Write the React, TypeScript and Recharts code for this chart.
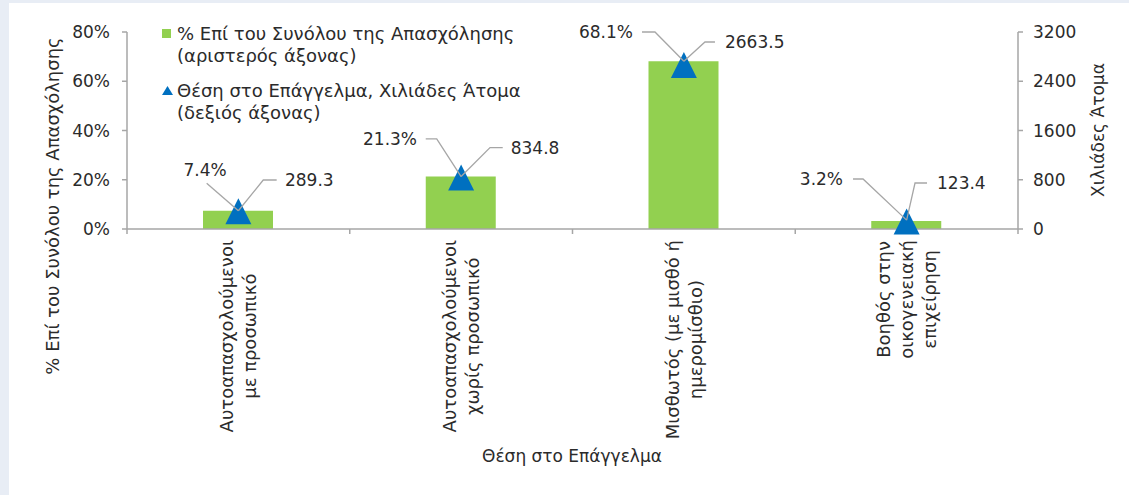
import React from 'react';
import { ComposedChart, Bar, Line, XAxis, YAxis, LabelList } from 'recharts';

// Θέση στο Επάγγελμα
const categories = ['Αυτοαπασχολούμενοι με προσωπικό', 'Αυτοαπασχολούμενοι χωρίς προσωπικό', 'Μισθωτός (με μισθό ή ημερομίσθιο)', 'Βοηθός στην οικογενειακή επιχείρηση'];
const categoryLines = [
    ['Αυτοαπασχολούμενοι', 'με προσωπικό'],
    ['Αυτοαπασχολούμενοι', 'χωρίς προσωπικό'],
    ['Μισθωτός (με μισθό ή', 'ημερομίσθιο)'],
    ['Βοηθός στην', 'οικογενειακή', 'επιχείρηση'],
];
// % Επί του Συνόλου της Απασχόλησης
const sharePct = [7.4, 21.3, 68.1, 3.2];
// Χιλιάδες Άτομα
const thousands = [289.3, 834.8, 2663.5, 123.4];
const leftTicks = [0, 20, 40, 60, 80];
const rightTicks = [0, 800, 1600, 2400, 3200];

const rows = categories.map((name, i) => ({ name, pct: sharePct[i], val: thousands[i] }));

// label placement (offsets from the top of each bar), moved by hand like in the original
const pctLayout = [
    { tx: -11.7, ty: -40.8, line: [[-31.7, -27.5], [0, 0]] },
    { tx: -44.1, ty: -37.7, line: [[-35.4, -37.7], [-24.4, -37.7], [0, 0]] },
    { tx: -50.9, ty: -29.3, line: [[-41.9, -29.3], [-28.9, -29.3], [0, 0]] },
    { tx: -63.6, ty: -42.1, line: [[-53.6, -42.1], [-43.6, -42.1], [0, -1]] },
];
const valLayout = [
    { tx: 46.6, ty: -30.8, line: [[38.3, -30.8], [24.9, -30.8], [0, 0]] },
    { tx: 49.6, ty: -29, line: [[41.6, -29], [28.9, -29], [0, 0]] },
    { tx: 41.1, ty: -19.3, line: [[31.1, -19.3], [21.1, -19.3], [0, 0]] },
    { tx: 30.4, ty: -38.1, line: [[20.4, -38.1], [8.4, -38.1], [0, -1]] },
];

const FONT = '"DejaVu Sans", sans-serif';
const FS = 17;
const CAT_FS = 18;
const TEXT = '#2b2b2b';
const GRID = '#a6a6a6';
const GREEN = '#92d050';
const BLUE = '#0070c0';

let ctx: CanvasRenderingContext2D | null = null;
const measure = (s: string) => {
    if (!ctx) ctx = document.createElement('canvas').getContext('2d');
    if (!ctx) return s.length * CAT_FS * 0.6;
    ctx.font = `${CAT_FS}px "DejaVu Sans"`;
    return ctx.measureText(s).width;
};

const CategoryTick = (props: any) => {
    const { x, y, payload, index } = props;
    const off = payload?.offset ?? 111.4;
    const lines = categoryLines[index] || [];
    const maxW = Math.max(...lines.map(measure));
    const n = lines.length;
    return (
        <g>
            <line x1={x - off} y1={y} x2={x - off} y2={y + 5} stroke={GRID} strokeWidth={1.5} />
            {index === categories.length - 1 && (
                <line x1={x + off} y1={y} x2={x + off} y2={y + 5} stroke={GRID} strokeWidth={1.5} />
            )}
            <g transform={`translate(${x},${y}) rotate(-90)`}>
                {lines.map((l, i) => (
                    <text key={i} x={-(11 + maxW / 2)} y={(i - (n - 1) / 2) * 23} textAnchor="middle"
                        dominantBaseline="central" fill={TEXT} fontSize={CAT_FS} fontFamily={FONT}>
                        {l}
                    </text>
                ))}
            </g>
        </g>
    );
};

const Leader = ({ ax, ay, pts }: { ax: number; ay: number; pts: number[][] }) => (
    <polyline points={pts.map(p => `${ax + p[0]},${ay + p[1]}`).join(' ')} fill="none" stroke={GRID} strokeWidth={1.3} />
);

const PctLabel = (p: any) => {
    const L = pctLayout[p.index];
    const ax = Number(p.x), ay = Number(p.y);
    return (
        <g>
            <Leader ax={ax} ay={ay} pts={L.line} />
            <text x={ax + L.tx} y={ay + L.ty} textAnchor="end" dominantBaseline="central" fill={TEXT} fontSize={FS} fontFamily={FONT}>
                {`${sharePct[p.index].toFixed(1)}%`}
            </text>
        </g>
    );
};

const ValLabel = (p: any) => {
    const L = valLayout[p.index];
    const ax = Number(p.x), ay = Number(p.y);
    return (
        <g>
            <Leader ax={ax} ay={ay} pts={L.line} />
            <text x={ax + L.tx} y={ay + L.ty} textAnchor="start" dominantBaseline="central" fill={TEXT} fontSize={FS} fontFamily={FONT}>
                {thousands[p.index].toFixed(1)}
            </text>
        </g>
    );
};

const Triangle = (p: any) => {
    const { cx, cy } = p;
    if (cx == null || cy == null) return null;
    return <polygon points={`${cx},${cy - 13} ${cx + 13},${cy + 13} ${cx - 13},${cy + 13}`} fill={BLUE} />;
};

const tickStyle = { fill: TEXT, fontSize: FS, fontFamily: FONT };

export default function App() {
    return (
        <div style={{ position: 'absolute', left: 0, top: 0, width: 1129, height: 495, background: '#e8edf5', overflow: 'hidden' }}>
            <div style={{ position: 'absolute', left: 9, top: 3, width: 1120, height: 492, background: '#fff' }} />
            <div style={{ position: 'absolute', left: 0, top: 0 }}>
                <ComposedChart width={1129} height={495} data={rows} margin={{ top: 32, right: 51, bottom: 66, left: 67 }}>
                    <XAxis dataKey="name" height={200} interval={0} tickLine={false} tickSize={0} tickMargin={0}
                        axisLine={{ stroke: GRID, strokeWidth: 1.5 }} tick={<CategoryTick />} />
                    <YAxis yAxisId="l" orientation="left" width={60} domain={[0, 80]} ticks={leftTicks}
                        tickFormatter={(v: number) => `${v}%`} tickSize={5} tickMargin={12}
                        axisLine={{ stroke: GRID, strokeWidth: 1.5 }} tickLine={{ stroke: GRID, strokeWidth: 1.5 }} tick={tickStyle} />
                    <YAxis yAxisId="r" orientation="right" width={60} domain={[0, 3200]} ticks={rightTicks}
                        tickSize={5} tickMargin={10}
                        axisLine={{ stroke: GRID, strokeWidth: 1.5 }} tickLine={{ stroke: GRID, strokeWidth: 1.5 }} tick={tickStyle} />
                    <Bar yAxisId="l" dataKey="pct" fill={GREEN} barSize={70} isAnimationActive={false} />
                    <Line yAxisId="r" dataKey="val" stroke="none" dot={<Triangle />} activeDot={false} isAnimationActive={false} />
                    <Line yAxisId="l" dataKey="pct" stroke="none" dot={false} activeDot={false} isAnimationActive={false} legendType="none">
                        <LabelList dataKey="pct" content={(p: any) => <PctLabel {...p} />} />
                        <LabelList dataKey="val" content={(p: any) => <ValLabel {...p} />} />
                    </Line>
                </ComposedChart>
            </div>
            <svg width={1129} height={495} style={{ position: 'absolute', left: 0, top: 0, pointerEvents: 'none' }}
                fontFamily={FONT} fontSize={FS} fill={TEXT}>
                {/* legend */}
                <rect x={162} y={29} width={9} height={9} fill={GREEN} />
                <text x={177} y={33} fontSize={18} dominantBaseline="central">% Επί του Συνόλου της Απασχόλησης</text>
                <text x={177} y={55} fontSize={18} dominantBaseline="central">(αριστερός άξονας)</text>
                <polygon points="167.5,86 173,95 162,95" fill={BLUE} />
                <text x={177} y={90} fontSize={18} dominantBaseline="central">Θέση στο Επάγγελμα, Χιλιάδες Άτομα</text>
                <text x={177} y={112} fontSize={18} dominantBaseline="central">(δεξιός άξονας)</text>
                {/* axis titles */}
                <text x={52} y={206} fontSize={18} transform="rotate(-90 52 206)" textAnchor="middle" dominantBaseline="central">% Επί του Συνόλου της Απασχόλησης</text>
                <text x={1098} y={130} transform="rotate(-90 1098 130)" textAnchor="middle" dominantBaseline="central">Χιλιάδες Άτομα</text>
                <text x={572} y={456} textAnchor="middle" dominantBaseline="central">Θέση στο Επάγγελμα</text>
            </svg>
        </div>
    );
}
